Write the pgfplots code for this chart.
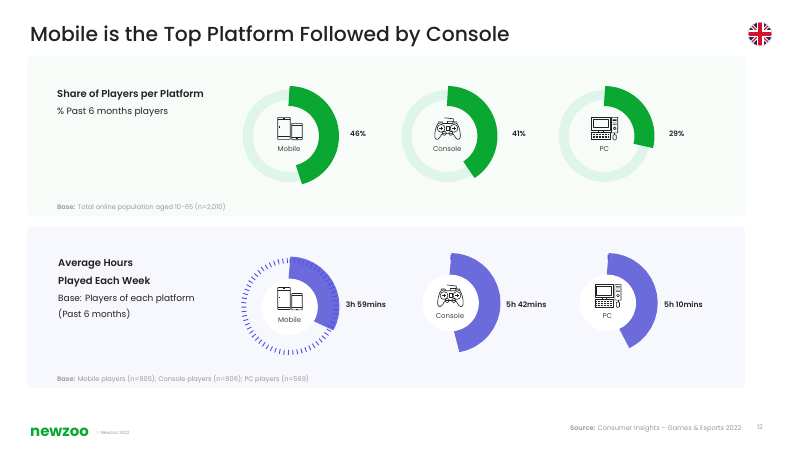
\documentclass[border=0pt]{standalone}
\usepackage{pgfplots}
\pgfplotsset{compat=1.18}
\usepackage{pgfplotstable}
\usepackage{fontspec}
\setmainfont{Poppins}
\newfontfamily\pmed{Poppins Medium}
\newfontfamily\psemi{Poppins SemiBold}
\definecolor{grn}{HTML}{0AA832}
\definecolor{lgrn}{HTML}{DFF4EA}
\definecolor{pur}{HTML}{6B6BDC}
\definecolor{dpur}{HTML}{5050E6}
\definecolor{pgreen}{HTML}{F7FCF9}
\definecolor{ppur}{HTML}{F7F7FE}
\definecolor{ink}{HTML}{222222}
\definecolor{gry}{HTML}{9A9A9A}
\definecolor{fblue}{HTML}{1B2A6B}
\definecolor{fred}{HTML}{CF142B}
\pgfplotstableread{
v
0
2
4
6
8
10
12
14
16
18
20
22
24
26
28
30
32
34
36
38
40
42
44
46
48
50
52
54
56
58
60
62
64
66
68
70
72
74
76
78
80
82
84
86
88
90
92
94
96
98
100
}\tblfull
\pgfplotstableread{
v
0
2
4
6
8
10
12
14
16
18
20
22
24
26
28
30
32
34
36
38
40
42
44
46
}\shareMobile
\pgfplotstableread{
v
0
2
4
6
8
10
12
14
16
18
20
22
24
26
28
30
32
34
36
38
40
41
}\shareConsole
\pgfplotstableread{
v
0
2
4
6
8
10
12
14
16
18
20
22
24
26
28
29
}\sharePC
\pgfplotstableread{
v
0
20
40
60
80
100
120
140
160
180
200
220
239
}\hoursMobile
\pgfplotstableread{
v
0
20
40
60
80
100
120
140
160
180
200
220
240
260
280
300
320
342
}\hoursConsole
\pgfplotstableread{
v
0
20
40
60
80
100
120
140
160
180
200
220
240
260
280
300
310
}\hoursPC
\pgfplotstableread{
v
0
3
}\tickmark
% #1 colour, #2 line width, #3 radius, #4 cx, #5 cy, #6 degrees per unit, #7 table, #8 extra
\newcommand\ring[8]{\addplot[draw=#1,line width=#2bp,line cap=butt,line join=round,no markers,#8]
  table[x index=0,y index=0,x expr={#4+#3*sin(#6*\thisrow{v})},y expr={#5-#3*cos(#6*\thisrow{v})}]{#7};}
\newcommand\disc[3]{\fill[white] (axis cs:#1,#2) circle (#3bp);}
\newcommand\txt[5]{\node[anchor=base #1,inner sep=0pt,text=#5] at (axis cs:#2,#3) {#4};}
\tikzset{ic/.style={draw=ink,line width=0.6bp,line join=round}}
\newcommand\phones[2]{\begin{scope}[shift={(axis cs:#1,#2)},x=1bp,y=-1bp]
 \draw[ic,rounded corners=0.5bp] (0,0) rectangle (12.5,22);
 \draw[ic] (0,2.4)--(12.5,2.4) (0,19.4)--(12.5,19.4) (5,1.2)--(7.5,1.2) (2,9)--(2,10.5);
 \draw[ic,rounded corners=0.5bp] (14,6) rectangle (24.5,22.4);
 \draw[ic] (14,8)--(24.5,8) (14,20.2)--(24.5,20.2) (18,21.3)--(20.5,21.3);
\end{scope}}
\newcommand\pad[2]{\begin{scope}[shift={(axis cs:#1,#2)},x=1bp,y=-1bp]
 \draw[ic] (3.5,6.5) .. controls (1.5,9) and (0,17) .. (0.6,20) .. controls (1.2,23) and (4,22.5) .. (5.5,20) .. controls (6.5,18) and (7.5,16.5) .. (9,16)
   -- (17.5,16) .. controls (19,16.5) and (20,18) .. (21,20) .. controls (22.5,22.5) and (25.3,23) .. (25.9,20) .. controls (26.5,17) and (25,9) .. (23,6.5)
   .. controls (21,5) and (19,5) .. (18,6.2) -- (8.5,6.2) .. controls (7.5,5) and (5.5,5) .. (3.5,6.5) -- cycle;
 \draw[ic] (6.8,11) circle (3.9bp) (19.7,11) circle (3.9bp) (10,16) circle (2bp) (16.5,16) circle (2bp);
 \draw[ic] (5,11)--(8.6,11) (6.8,9.2)--(6.8,12.8) (18,11)--(21.4,11) (19.7,9.3)--(19.7,12.7);
 \draw[ic] (11.8,9) rectangle (14.7,13);
 \draw[ic] (13.2,6.2)--(13.2,4)--(19,4)--(19,1.5)--(10,0.5) (4,5.6)--(4,4.5)--(8,4.5)--(8,5.6) (18.5,5.6)--(18.5,4.5)--(22.5,4.5)--(22.5,5.6);
\end{scope}}
\newcommand\pc[2]{\begin{scope}[shift={(axis cs:#1,#2)},x=1bp,y=-1bp]
 \draw[ic] (0,0) rectangle (18.3,12.7) (1.6,1.6) rectangle (16.7,10.2) (7,12.7) rectangle (11.5,15);
 \draw[ic] (0,15) rectangle (18.3,22.4);
 \draw[ic,dash pattern=on 0.6bp off 0.9bp] (1,17)--(17.5,17) (1,18.7)--(17.5,18.7) (1,20.4)--(17.5,20.4);
 \draw[ic] (19.8,0) rectangle (26,15.5) (21,2)--(24.8,2) (21,3.2)--(24.8,3.2) (21,5.5)--(24.8,5.5) (21,7)--(24.8,7) (23,11) circle (1.4bp);
 \draw[ic] (23,15.5)--(23,17.5);
 \draw[ic,rounded corners=0.7bp] (21.3,17.5) rectangle (24.5,22.6);
\end{scope}}
\newcommand\ilab[3]{\node[anchor=center,inner sep=0pt,text=ink!85] at (axis cs:#1,#2) {\fontsize{7}{8}\selectfont #3};}
\pgfplotsset{page/.style={width=800bp,height=449bp,scale only axis,xmin=0,xmax=800,ymin=0,ymax=449,y dir=reverse,hide axis,clip=false,at={(0,0)},anchor=south west}}
\begin{document}
\begin{tikzpicture}
\begin{axis}[page]
\path[use as bounding box] (axis cs:0,0) rectangle (axis cs:800,449);
\fill[white] (axis cs:0,0) rectangle (axis cs:800,449);
\fill[pgreen,rounded corners=4bp] (axis cs:27,56) rectangle (axis cs:745,216);
\fill[ppur,rounded corners=4bp] (axis cs:27,226.5) rectangle (axis cs:745,388);
% share of players
\ring{lgrn}{10}{41}{288.7}{136}{3.6}{\tblfull}{}
\ring{grn}{20}{40}{289}{136}{3.6}{\shareMobile}{}
\ring{lgrn}{10}{41}{447.5}{136}{3.6}{\tblfull}{}
\ring{grn}{20}{40}{447.5}{136}{3.6}{\shareConsole}{}
\ring{lgrn}{10}{41}{604.5}{136}{3.6}{\tblfull}{}
\ring{grn}{20}{40}{604.5}{136}{3.6}{\sharePC}{}
% hours played
\ring{pur}{22}{39}{289.5}{306.5}{0.5}{\hoursMobile}{}
\ring{dpur}{5}{46}{289.7}{306.5}{3.6}{\tblfull}{dash pattern=on 0.9bp off 3.5bp}
\ring{pur}{22}{39}{450.5}{303}{0.5}{\hoursConsole}{}
\ring{dpur}{5}{46}{450.5}{303}{0.5}{\tickmark}{}
\ring{pur}{22}{39}{607.7}{303}{0.5}{\hoursPC}{}
\ring{dpur}{5}{46}{607.7}{303}{0.5}{\tickmark}{}
\end{axis}
\begin{axis}[page]
\disc{289.8}{307}{28}
\disc{450.5}{303}{28.3}
\disc{607.7}{303}{28.3}
% icons
\phones{277.7}{117.3}\phones{277.7}{287.5}
\pad{434.3}{117.3}\pad{437.2}{284.5}
\pc{591.7}{117.3}\pc{595}{284.6}
% icon labels
\ilab{289}{149}{Mobile}\ilab{447.3}{149}{Console}\ilab{604.3}{149}{PC}
\ilab{289.7}{320}{Mobile}\ilab{450}{316.3}{Console}\ilab{607.3}{316.3}{PC}
% value labels
\txt{west}{350}{136}{\fontsize{7.4}{9}\selectfont\psemi 46\%}{ink}
\txt{west}{512}{136}{\fontsize{7.4}{9}\selectfont\psemi 41\%}{ink}
\txt{west}{669}{136}{\fontsize{7.4}{9}\selectfont\psemi 29\%}{ink}
\txt{west}{345.7}{307}{\fontsize{7.6}{9}\selectfont\psemi 3h 59mins}{ink}
\txt{west}{506}{307}{\fontsize{7.6}{9}\selectfont\psemi 5h 42mins}{ink}
\txt{west}{664}{307}{\fontsize{7.6}{9}\selectfont\psemi 5h 10mins}{ink}
% title
\txt{west}{30}{41.5}{\fontsize{20.4}{24}\selectfont\pmed Mobile is the Top Platform Followed by Console}{ink}
% panel text
\txt{west}{57}{97.5}{\fontsize{10}{11}\selectfont\psemi Share of Players per Platform}{ink}
\txt{west}{57}{114}{\fontsize{9.2}{11}\selectfont \% Past 6 months players}{ink}
\txt{west}{57}{209}{\fontsize{6.65}{8}\selectfont{\psemi Base:} Total online population aged 10-65 (n=2,010)}{gry}
\txt{west}{58}{266}{\fontsize{10}{11}\selectfont\psemi Average Hours}{ink}
\txt{west}{58}{284}{\fontsize{10}{11}\selectfont\psemi Played Each Week}{ink}
\txt{west}{58}{301}{\fontsize{9}{11}\selectfont Base: Players of each platform}{ink}
\txt{west}{58}{317.7}{\fontsize{9}{11}\selectfont (Past 6 months)}{ink}
\txt{west}{57}{381}{\fontsize{6.65}{8}\selectfont{\psemi Base:} Mobile players (n=905); Console players (n=806); PC players (n=569)}{gry}
% footer
\txt{west}{30}{436}{\fontsize{15}{20}\selectfont\bfseries newzoo}{grn}
\txt{west}{96}{434.5}{\fontsize{4.4}{5}\selectfont \copyright{} Newzoo 2022}{gry}
\txt{west}{570}{430.7}{\fontsize{6.65}{8}\selectfont{\psemi Source:} Consumer Insights -- Games \& Esports 2022}{gry}
\txt{west}{757}{429}{\fontsize{6.4}{8}\selectfont 12}{gry}
% flag
\begin{scope}
 \clip (axis cs:760,34) circle (12bp);
 \fill[fblue] (axis cs:748,22) rectangle (axis cs:772,46);
 \draw[white,line width=3.4bp] (axis cs:748,22)--(axis cs:772,46) (axis cs:772,22)--(axis cs:748,46);
 \draw[fred,line width=1.1bp] (axis cs:748,22)--(axis cs:772,46) (axis cs:772,22)--(axis cs:748,46);
 \draw[white,line width=7bp] (axis cs:760,22)--(axis cs:760,46) (axis cs:748,34)--(axis cs:772,34);
 \draw[fred,line width=4.4bp] (axis cs:760,22)--(axis cs:760,46) (axis cs:748,34)--(axis cs:772,34);
\end{scope}
\draw[fred!15,line width=0.8bp] (axis cs:760,34) circle (12bp);
\end{axis}
\end{tikzpicture}
\end{document}
